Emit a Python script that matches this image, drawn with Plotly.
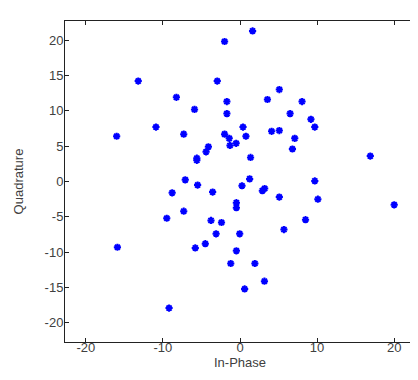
import plotly.graph_objects as go

in_phase = [-16.0, -13.2, -10.9, -8.25, -7.3, -5.9, -5.6, -5.6, -4.4, -4.1, -2.95, -2.0, -1.7, -1.7,
            -2.0, -1.4, -1.3, -0.5, 1.63, 5.1, 3.56, 8.05, 6.5, 9.2, 9.7, 0.39, 0.77, 4.1, 5.1, 7.1,
            6.8, 1.37, 16.9, -15.9, -9.2, -9.5, -7.1, -8.8, -5.5, -3.55, -7.3, -3.76, -2.4, -3.1,
            -4.5, -5.8, -1.2, -0.47, -0.47, -0.47, 1.25, 0.26, 2.9, 3.2, 5.1, 9.7, 10.1, 20.0,
            8.5, 5.7, -0.04, 1.93, 3.17, 0.6]
quadrature = [6.4, 14.2, 7.7, 11.9, 6.7, 10.2, 3.0, 3.3, 4.2, 4.9, 14.2, 19.8, 11.3, 9.6,
              6.7, 6.1, 5.1, 5.4, 21.3, 13.0, 11.6, 11.3, 9.6, 8.8, 7.7, 7.7, 6.4, 7.1, 7.2, 6.1,
              4.6, 3.4, 3.6, -9.3, -17.9, -5.2, 0.23, -1.6, -0.5, -1.5, -4.2, -5.5, -5.8, -7.4,
              -8.8, -9.4, -11.6, -9.8, -3.0, -3.7, 0.37, -0.6, -1.3, -1.0, -2.2, 0.08, -2.5, -3.3,
              -5.4, -6.8, -7.4, -11.6, -14.1, -15.2]

y_tick_vals = [-20, -15, -10, -5, 0, 5, 10, 15, 20]
y_tick_text = ["-20", "-15", "-10", "-5", "0", "5", "10", "15", "20"]
x_tick_vals = [-20, -10, 0, 10, 20]
x_tick_text = ["-20", "-10", "0", "10", "20"]

fig = go.Figure(go.Scatter(
    x=in_phase, y=quadrature, mode="markers",
    marker=dict(symbol="asterisk-open", size=6, color="#0000ff",
                line=dict(color="#0000ff", width=2)),
))

axis_common = dict(
    showgrid=False, zeroline=False, showline=True, linecolor="#222222", linewidth=1,
    mirror="ticks", ticks="inside", ticklen=4, tickcolor="#222222",
    tickfont=dict(family="Liberation Sans, Arial", size=13, color="#404040"),
)

fig.update_layout(
    width=418, height=380,
    margin=dict(l=55, r=10, t=13, b=46),
    paper_bgcolor="white", plot_bgcolor="white",
    showlegend=False,
    font=dict(family="Liberation Sans, Arial", size=13, color="#404040"),
    xaxis=dict(range=[-22.7, 22.7], tickvals=x_tick_vals, ticktext=x_tick_text,
               ticklabelstandoff=-7,
               title=dict(text="In-Phase", standoff=4,
                          font=dict(size=13, color="#404040")),
               **axis_common),
    yaxis=dict(range=[-22.7, 22.7], tickvals=y_tick_vals, ticktext=y_tick_text,
               ticklabelstandoff=-2,
               title=dict(text="Quadrature", standoff=18,
                          font=dict(size=13, color="#404040")),
               **axis_common),
)

fig.write_html("out.html")
